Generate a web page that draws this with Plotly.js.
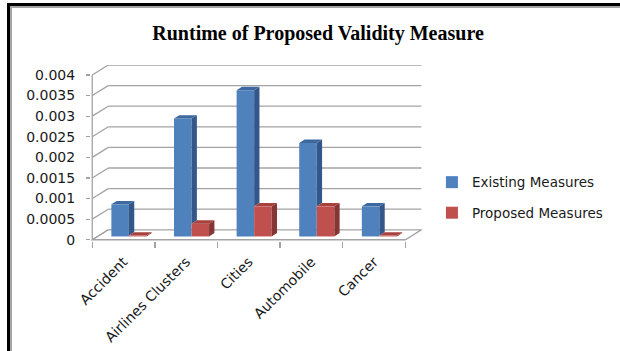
<!DOCTYPE html>
<html><head><meta charset="utf-8">
<script src="https://cdn.plot.ly/plotly-3.0.1.min.js"></script>
<style>
html,body{margin:0;padding:0;background:#fff;overflow:hidden;width:620px;height:351px;}
#frame{position:absolute;left:7px;top:3px;width:700px;height:400px;border-left:3px solid #000;border-top:3px solid #000;}
#inner{position:absolute;left:10px;top:6px;width:700px;height:400px;border-left:2px solid #a6a6a6;border-top:2px solid #a6a6a6;}
#chart{position:absolute;left:0;top:0;width:620px;height:351px;}
</style></head><body>
<div id="frame"></div><div id="inner"></div>
<div id="chart"></div>
<script>
// ---- data ----
const categories = ['Accident', 'Airlines Clusters', 'Cities', 'Automobile', 'Cancer'];
const existingMeasures = [0.00078, 0.00286, 0.00355, 0.00227, 0.00073];
const proposedMeasures = [0.00002, 0.00031, 0.00073, 0.00073, 0.00002];
const yTickVals = [0, 0.0005, 0.001, 0.0015, 0.002, 0.0025, 0.003, 0.0035, 0.004];
const yTickText = ['0', '0.0005', '0.001', '0.0015', '0.002', '0.0025', '0.003', '0.0035', '0.004'];
const seriesNames = ['Existing Measures', 'Proposed Measures'];

// ---- 3D geometry (style only) ----
const X0 = -0.5, X1 = 4.5;
const DX = 0.256, DY = 0.000242;     // full depth offset of back wall
const FX = DX / 3, FY = DY / 3;      // front face of bars sits at 1/3 depth
const BX = DX / 3, BY = DY / 3;      // bar depth
const W = 0.28;                      // bar front width
const YMAX = yTickVals[yTickVals.length - 1];
const grid = '#a3a3a3';
const txt = '#1a1a1a';

const idx = categories.map((c, i) => i);

function poly(list) {
  const xs = [], ys = [];
  list.forEach(p => { p.forEach(q => { xs.push(q[0]); ys.push(q[1]); }); xs.push(p[0][0]); ys.push(p[0][1]); xs.push(null); ys.push(null); });
  return {xs, ys};
}
const blueSide = [], blueTop = [], redSide = [], redTop = [];
idx.forEach(i => {
  const c = i + FX, b = existingMeasures[i], r = proposedMeasures[i];
  const lo = Math.min(r, b);
  blueSide.push([[c, FY + lo], [c, FY + b], [c + BX, FY + b + BY], [c + BX, FY + lo + BY]]);
  blueTop.push([[c - W, FY + b], [c, FY + b], [c + BX, FY + b + BY], [c - W + BX, FY + b + BY]]);
  redSide.push([[c + W, FY], [c + W, FY + r], [c + W + BX, FY + r + BY], [c + W + BX, FY + BY]]);
  redTop.push([[c, FY + r], [c + W, FY + r], [c + W + BX, FY + r + BY], [c + BX, FY + r + BY]]);
});
function face(list, color) {
  const p = poly(list);
  return {type: 'scatter', mode: 'lines', x: p.xs, y: p.ys, fill: 'toself', fillcolor: color,
    line: {width: 0, color: color}, hoverinfo: 'skip', showlegend: false, connectgaps: false};
}

const traces = [
  {type: 'bar', name: seriesNames[0], x: idx, y: existingMeasures, base: FY, width: W, offset: FX - W,
   marker: {color: '#4F81BD', line: {width: 0}}, legendgroup: 'a', hoverinfo: 'skip'},
  {type: 'bar', name: seriesNames[1], x: idx, y: proposedMeasures, base: FY, width: W, offset: FX,
   marker: {color: '#C0504D', line: {width: 0}}, legendgroup: 'b', hoverinfo: 'skip'},
  face(blueSide, '#34578A'),
  face(blueTop, '#3D68A0'),
  face(redSide, '#853634'),
  face(redTop, '#A8413E')
];

const shapes = [];
// floor
shapes.push({type: 'path', xref: 'x', yref: 'y', layer: 'below',
  path: `M${X0},0 L${X1},0 L${X1 + DX},${DY} L${X0 + DX},${DY} Z`,
  fillcolor: '#ffffff', line: {color: grid, width: 1.3}});
// back wall gridlines + left wall diagonals
yTickVals.forEach(v => {
  if (v > 0) {
    shapes.push({type: 'line', xref: 'x', yref: 'y', layer: 'below', x0: X0 + DX, x1: X1 + DX, y0: v + DY, y1: v + DY, line: {color: grid, width: 1.3}});
  }
  shapes.push({type: 'line', xref: 'x', yref: 'y', layer: 'below', x0: X0, x1: X0 + DX, y0: v, y1: v + DY, line: {color: grid, width: 1.3}});
});
// front vertical axis
shapes.push({type: 'line', xref: 'x', yref: 'y', layer: 'below', x0: X0, x1: X0, y0: 0, y1: YMAX, line: {color: grid, width: 1.3}});

const layout = {
  width: 620, height: 351,
  margin: {l: 91, r: 198, t: 65, b: 110},
  paper_bgcolor: 'rgba(0,0,0,0)', plot_bgcolor: 'rgba(0,0,0,0)',
  barmode: 'overlay',
  title: {text: '<b>Runtime of Proposed Validity Measure</b>', x: 0.513, xref: 'container', xanchor: 'center',
    y: 0.906, yref: 'container', yanchor: 'middle',
    font: {family: 'Liberation Serif', size: 20, color: '#000'}},
  xaxis: {range: [X0 - 0.02, X1 + DX + 0.01], tickvals: idx, ticktext: categories, tickangle: -45,
    ticks: '', showgrid: false, zeroline: false, showline: false, ticklabelstandoff: 9,
    tickfont: {family: 'DejaVu Sans', size: 14, color: txt},
    minor: {tickmode: 'linear', tick0: -0.5, dtick: 1, ticks: 'outside', ticklen: 6, tickcolor: grid, tickwidth: 1.3, showgrid: false}},
  yaxis: {range: [-0.00003, YMAX + DY], tickvals: yTickVals, ticktext: yTickText,
    ticks: 'outside', ticklen: 4, tickcolor: grid, tickwidth: 1.3, ticklabelstandoff: 8,
    showgrid: false, zeroline: false, showline: false,
    tickfont: {family: 'DejaVu Sans', size: 14, color: txt}},
  legend: {x: 1.03, xanchor: 'left', y: 0.245, yanchor: 'middle', traceorder: 'grouped', tracegroupgap: 10,
    font: {family: 'DejaVu Sans', size: 13.5, color: txt}, bgcolor: 'rgba(0,0,0,0)'},
  shapes: shapes,
  showlegend: true,
  hovermode: false
};
Plotly.newPlot('chart', traces, layout, {staticPlot: true, displayModeBar: false});
</script>
</body></html>
